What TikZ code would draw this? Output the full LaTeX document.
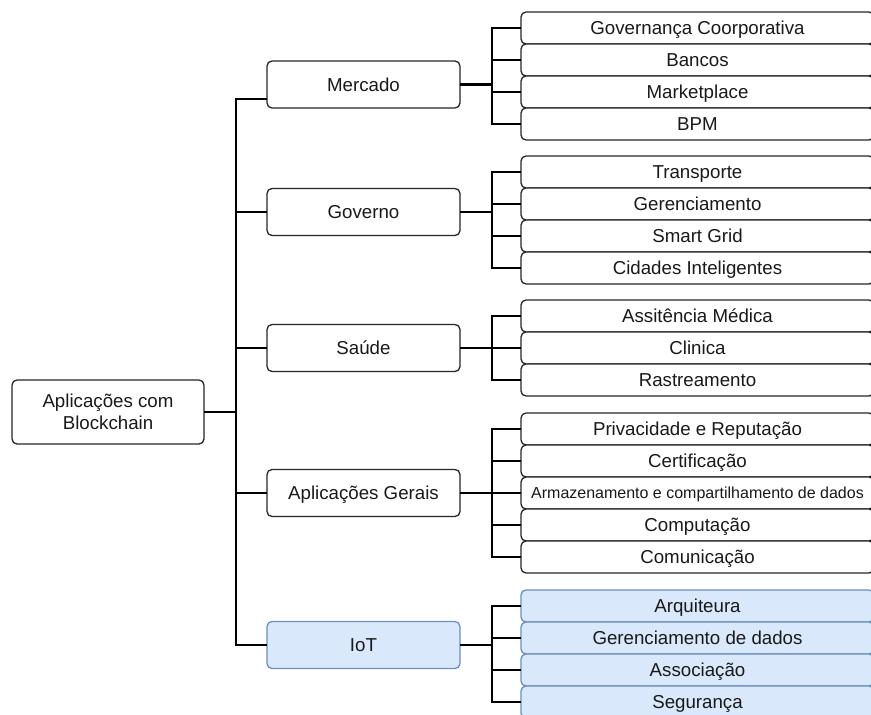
\documentclass[tikz,border=0pt]{standalone}
\usepackage{fontspec}
\setmainfont{Liberation Sans}
\usetikzlibrary{positioning}

\definecolor{iotfill}{HTML}{DAE8FC}
\definecolor{iotline}{HTML}{6C8EBF}

\tikzset{
    box/.style={draw=black!85, line width=1.3pt, rounded corners=5pt, fill=white,
        align=center, inner sep=0pt, outer sep=0pt, text=black!90,
        font=\fontsize{18.7}{22}\selectfont},
    cat/.style={box, minimum width=193pt, minimum height=47pt, text height=13.5pt, text depth=0pt},
    leaf/.style={box, minimum width=353pt, minimum height=32pt, text height=13.5pt, text depth=0pt},
    iotstyle/.style={fill=iotfill, draw=iotline},
    tree/.style={line width=2.5pt, black},
}

\begin{document}
\begin{tikzpicture}[x=1pt, y=-1pt]
    \clip (0,0) rectangle (871,715);

    \node[box, minimum width=192pt, minimum height=64pt] (apps) at (108,412) {Aplicações com\\Blockchain};

    % categorias
    \node[cat] (mercado) at (363.5,84.5) {Mercado};
    \node[cat] (governo) at (363.5,212) {Governo};
    \node[cat] (saude)   at (363.5,348) {Saúde};
    \node[cat] (gerais)  at (363.5,493) {Aplicações Gerais};
    \node[cat, iotstyle] (iot) at (363.5,645) {IoT};

    % Mercado
    \node[leaf] (govcorp) at (697.5,28) {Governança Coorporativa};
    \node[leaf, below=0pt of govcorp] (bancos) {Bancos};
    \node[leaf, below=0pt of bancos] (market) {Marketplace};
    \node[leaf, below=0pt of market] (bpm) {BPM};

    % Governo
    \node[leaf] (transp) at (697.5,172) {Transporte};
    \node[leaf, below=0pt of transp] (gerenc) {Gerenciamento};
    \node[leaf, below=0pt of gerenc] (grid) {Smart Grid};
    \node[leaf, below=0pt of grid] (cidades) {Cidades Inteligentes};

    % Saude
    \node[leaf] (assist) at (697.5,316) {Assitência Médica};
    \node[leaf, below=0pt of assist] (clinica) {Clinica};
    \node[leaf, below=0pt of clinica] (rastr) {Rastreamento};

    % Aplicacoes Gerais
    \node[leaf] (priv) at (697.5,429) {Privacidade e Reputação};
    \node[leaf, below=0pt of priv] (certif) {Certificação};
    \node[leaf, below=0pt of certif, font=\fontsize{16}{19}\selectfont, text height=11.5pt] (armaz) {Armazenamento e compartilhamento de dados};
    \node[leaf, below=0pt of armaz] (comput) {Computação};
    \node[leaf, below=0pt of comput] (comun) {Comunicação};

    % IoT
    \node[leaf, iotstyle] (arq) at (697.5,606) {Arquiteura};
    \node[leaf, iotstyle, below=0pt of arq] (gerdados) {Gerenciamento de dados};
    \node[leaf, iotstyle, below=0pt of gerdados] (assoc) {Associação};
    \node[leaf, iotstyle, below=0pt of assoc] (seg) {Segurança};

    % tronco
    \draw[tree] (apps.east) -- ++(32,0) |- ([yshift=-14.5pt]mercado.west);
    \draw[tree] (apps.east) -- ++(32,0) |- (governo.west);
    \draw[tree] (apps.east) -- ++(32,0) |- (saude.west);
    \draw[tree] (apps.east) -- ++(32,0) |- (gerais.west);
    \draw[tree] (apps.east) -- ++(32,0) |- (iot.west);

    \draw[tree] (mercado.east) -- ++(32,0) |- (govcorp.west);
    \draw[tree] (mercado.east) -- ++(32,0) |- (bancos.west);
    \draw[tree] (mercado.east) -- ++(32,0) |- (market.west);
    \draw[tree] (mercado.east) -- ++(32,0) |- (bpm.west);

    \draw[tree] (governo.east) -- ++(32,0) |- (transp.west);
    \draw[tree] (governo.east) -- ++(32,0) |- (gerenc.west);
    \draw[tree] (governo.east) -- ++(32,0) |- (grid.west);
    \draw[tree] (governo.east) -- ++(32,0) |- (cidades.west);

    \draw[tree] (saude.east) -- ++(32,0) |- (assist.west);
    \draw[tree] (saude.east) -- ++(32,0) |- (clinica.west);
    \draw[tree] (saude.east) -- ++(32,0) |- (rastr.west);

    \draw[tree] (gerais.east) -- ++(32,0) |- (priv.west);
    \draw[tree] (gerais.east) -- ++(32,0) |- (certif.west);
    \draw[tree] (gerais.east) -- ++(32,0) |- (armaz.west);
    \draw[tree] (gerais.east) -- ++(32,0) |- (comput.west);
    \draw[tree] (gerais.east) -- ++(32,0) |- (comun.west);

    \draw[tree] (iot.east) -- ++(32,0) |- (arq.west);
    \draw[tree] (iot.east) -- ++(32,0) |- (gerdados.west);
    \draw[tree] (iot.east) -- ++(32,0) |- (assoc.west);
    \draw[tree] (iot.east) -- ++(32,0) |- (seg.west);
\end{tikzpicture}
\end{document}
